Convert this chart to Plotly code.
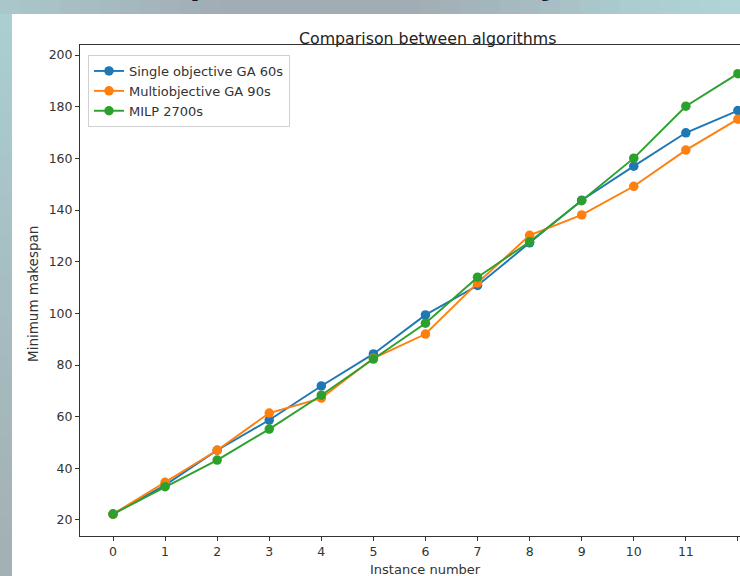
import plotly.graph_objects as go

instances = list(range(13))
single_ga = [22.3, 33.5, 47.0, 58.7, 71.9, 84.3, 99.4, 110.8, 127.3, 143.8, 157.0, 169.9, 178.5]
multi_ga = [22.3, 34.6, 47.0, 61.4, 67.2, 82.6, 92.0, 111.8, 130.2, 138.1, 149.2, 163.2, 175.2]
milp = [22.3, 32.9, 43.2, 55.2, 68.3, 82.3, 96.2, 114.0, 127.7, 143.6, 160.1, 180.2, 192.8]
series_names = ["Single objective GA 60s", "Multiobjective GA 90s", "MILP 2700s"]
colors = ["#1f77b4", "#ff7f0e", "#2ca02c"]
xtick_labels = [str(i) for i in instances]
ytick_vals = list(range(20, 201, 20))

W, H = 740, 576
ML, MR, MT, MB = 80, 0, 45, 40
PW, PH = W - ML - MR, H - MT - MB

def px(xp):
    return (xp - ML) / PW

def py(yp):
    return (H - MB - yp) / PH

def hex2rgb(h):
    h = h.lstrip("#")
    return [int(h[i:i + 2], 16) for i in (0, 2, 4)]

def interp(stops, t):
    for (t0, c0), (t1, c1) in zip(stops, stops[1:]):
        if t0 <= t <= t1:
            f = (t - t0) / (t1 - t0) if t1 > t0 else 0
            a, b = hex2rgb(c0), hex2rgb(c1)
            return "rgb(%d,%d,%d)" % tuple(round(a[k] + (b[k] - a[k]) * f) for k in range(3))
    return stops[-1][1]

fig = go.Figure()
for name, vals, c in zip(series_names, [single_ga, multi_ga, milp], colors):
    fig.add_trace(go.Scatter(
        x=instances, y=vals, name=name, mode="lines+markers",
        line=dict(color=c, width=1.9),
        marker=dict(color=c, size=9.5),
    ))

shapes = []
top_stops = [(0, "#a9c7cb"), (100, "#a6bcc1"), (220, "#a1adb4"), (400, "#a1acb3"),
             (520, "#a5bac0"), (620, "#abcbcf"), (740, "#b0d5d9")]
N = 37
for i in range(N):
    xa, xb = i * W / N, (i + 1) * W / N
    shapes.append(dict(type="rect", xref="paper", yref="paper", layer="below",
                       x0=px(xa), x1=px(xb + 1), y0=py(14), y1=py(-1),
                       fillcolor=interp(top_stops, (xa + xb) / 2), line=dict(width=0)))
left_stops = [(14, "#aacfd2"), (300, "#a6bdc1"), (576, "#a3afb4")]
M = 28
for i in range(M):
    ya = 14 + i * (H - 14) / M
    yb = 14 + (i + 1) * (H - 14) / M
    shapes.append(dict(type="rect", xref="paper", yref="paper", layer="below",
                       x0=px(-1), x1=px(12), y0=py(yb + 1), y1=py(ya),
                       fillcolor=interp(left_stops, (ya + yb) / 2), line=dict(width=0)))
shapes.append(dict(type="rect", xref="paper", yref="paper", layer="below",
                   x0=px(12), x1=px(W + 2), y0=py(H + 2), y1=py(14),
                   fillcolor="white", line=dict(width=0)))

annotations = [
    dict(text="Comparison between algorithms", xref="paper", yref="paper",
         x=px(427), y=py(38), xanchor="center", yanchor="middle", showarrow=False,
         font=dict(family="DejaVu Sans", size=15.8, color="#222")),
    dict(text="Instance number", xref="paper", yref="paper",
         x=px(425), y=py(569), xanchor="center", yanchor="middle", showarrow=False,
         font=dict(family="DejaVu Sans", size=13, color="#333")),
    dict(text="Minimum makespan", xref="paper", yref="paper", textangle=-90,
         x=px(33), y=py(294), xanchor="center", yanchor="middle", showarrow=False,
         font=dict(family="DejaVu Sans", size=13.5, color="#333")),
    dict(text="<b>Computational efficiency</b>", xref="paper", yref="paper",
         x=px(335), y=py(3), xanchor="center", yanchor="bottom", showarrow=False,
         font=dict(family="Open Sans", size=36, color="#0f1a2e"), yshift=-2),
]

fig.update_layout(
    width=W, height=H, autosize=False,
    margin=dict(l=ML, r=MR, t=MT, b=MB, pad=0),
    paper_bgcolor="#a5b5ba", plot_bgcolor="white",
    shapes=shapes, annotations=annotations,
    font=dict(family="DejaVu Sans", size=12.5, color="#333"),
    showlegend=True,
    legend=dict(x=px(88), y=py(55), xanchor="left", yanchor="top",
                bgcolor="rgba(255,255,255,0.9)", bordercolor="#d0d0d0", borderwidth=1,
                font=dict(family="DejaVu Sans", size=13, color="#333"),
                itemwidth=30, tracegroupgap=0),
    xaxis=dict(range=[-0.634, 12.04], tickvals=instances, ticktext=xtick_labels,
               ticks="outside", ticklen=4, tickcolor="#333", showline=True,
               linecolor="#333", linewidth=1, mirror=True, showgrid=False, zeroline=False,
               tickfont=dict(size=12.5)),
    yaxis=dict(range=[13.8, 203.9], tickvals=ytick_vals,
               ticks="outside", ticklen=4, tickcolor="#333", showline=True,
               linecolor="#333", linewidth=1, mirror=False, showgrid=False, zeroline=False,
               tickfont=dict(size=12.5)),
)

fig.write_html("out.html", config={"displayModeBar": False},
               post_script="document.body.style.margin='0';")
